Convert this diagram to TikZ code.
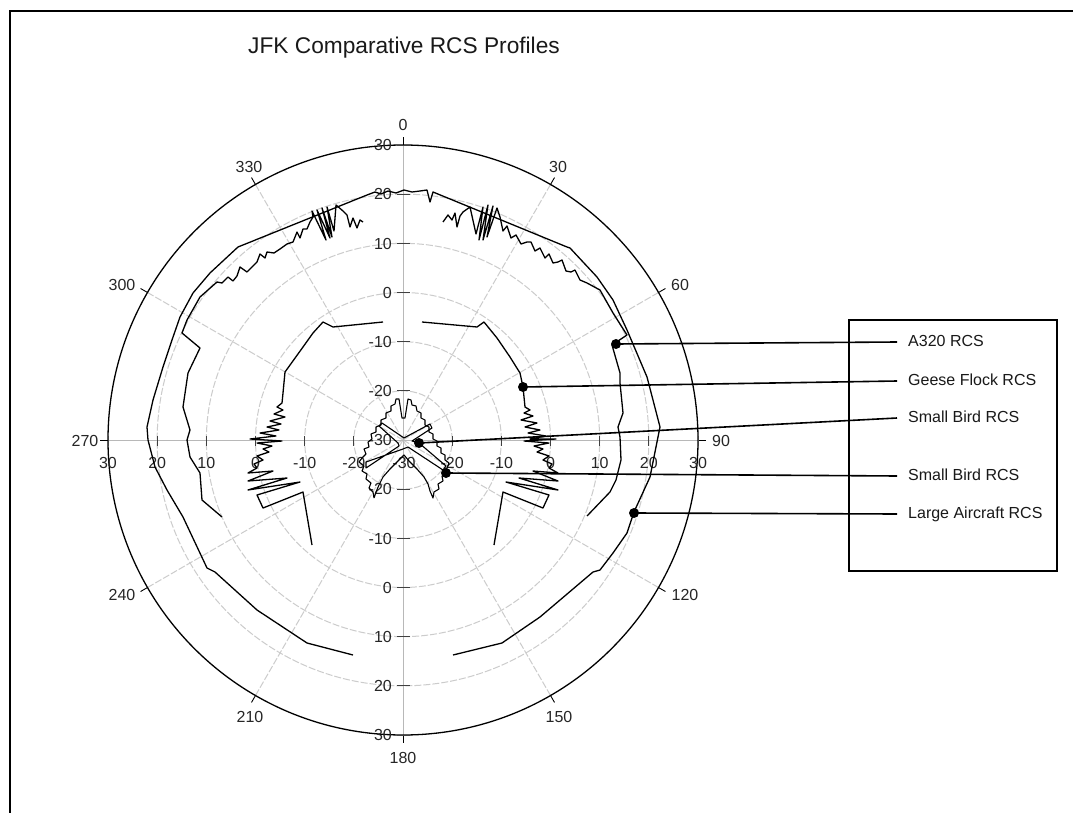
\documentclass[tikz,border=0pt]{standalone}
\usepackage{fontspec}
\setmainfont{Liberation Sans}
\begin{document}
\begin{tikzpicture}[x=1pt,y=-1pt,
  gridc/.style={draw=black!20, line width=1pt, dash pattern=on 7pt off 2pt},
  axisg/.style={draw=black!28, line width=1pt},
  tickm/.style={draw=black!75, line width=0.8pt},
  trace/.style={draw=black, line width=1.3pt, line join=round},
  leader/.style={draw=black, line width=1.6pt},
  dot/.style={circle, fill=black, inner sep=0pt, minimum size=10pt},
  lbl/.style={font=\fontsize{16}{18}\selectfont, text=black!85, inner sep=0pt, text height=11.5pt, text depth=0pt},
  legtext/.style={font=\fontsize{16}{18}\selectfont, text=black!90, anchor=west, inner xsep=11pt, inner ysep=0pt, text height=12pt, text depth=3pt},
]
\useasboundingbox (0,0) rectangle (1073,813);
\fill[white] (0,0) rectangle (1073,813);
\coordinate (c) at (403,440);
% grid rings and spokes
\foreach \k in {1,...,5} \draw[gridc] (c) circle[radius={\k*49.1667pt}];
\foreach \t in {30,60,120,150,210,240,300,330}
  \draw[gridc] (c) -- ({403+295*sin(\t)},{440-295*cos(\t)});
\draw[axisg] (403,145) -- (403,735);
\draw[axisg] (108,440) -- (698,440);
% outer circle
\draw[black, line width=1.3pt] (c) circle[radius=295pt];
\foreach \t in {0,30,...,330}
  \draw[black, line width=0.9pt] ({403+295*sin(\t)},{440-295*cos(\t)}) -- ({403+303*sin(\t)},{440-303*cos(\t)});
% angle labels
\node[lbl] (a0) at (403,125) {0};
\node[lbl] (a30) at (558,167) {30};
\node[lbl] (a60) at (680,285) {60};
\node[lbl] (a90) at (721,441) {90};
\node[lbl] (a120) at (685,595) {120};
\node[lbl] (a150) at (559,717) {150};
\node[lbl] (a180) at (403,758) {180};
\node[lbl] (a210) at (250,717) {210};
\node[lbl] (a240) at (122,595) {240};
\node[lbl] (a270) at (85,441) {270};
\node[lbl] (a300) at (122,285) {300};
\node[lbl] (a330) at (249,167) {330};
% radial axis ticks and labels
\foreach \v [count=\i] in {-20,-10,0,10,20,30} {
  \pgfmathsetmacro\rr{(\v+30)*4.9167}
  \draw[tickm] (397,{440-\rr}) -- (410,{440-\rr});
  \draw[tickm] (397,{440+\rr}) -- (410,{440+\rr});
  \draw[tickm] ({403-\rr},436) -- ({403-\rr},446);
  \draw[tickm] ({403+\rr},436) -- ({403+\rr},446);
  \node[lbl, anchor=east] (vu\i) at (392,{440-\rr}) {\v};
  \node[lbl, anchor=east] (vd\i) at (392,{440+\rr}) {\v};
  \node[lbl] (hl\i) at ({403-\rr},463) {\v};
  \node[lbl] (hr\i) at ({403+\rr},463) {\v};
}
\node[lbl, anchor=east] (vc) at (392,440) {-30};
\node[lbl] (hc) at (404,463) {-30};
% Large aircraft trace
\draw[trace] plot coordinates {(353,655) (307,643) (257,610) (215,572) (207,568) (183,517) (167,490) (155,467) (148,440) (147,427) (153,400) (163,367) (172,340) (180,317) (193,293) (210,273) (238,247) (367,195) (375,192) (381,194) (388,191) (396,193) (404,190) (412,192) (420,191) (427,190) (430,202) (433,192) (567,247) (570,248) (597,277) (613,300) (627,330) (647,377) (660,427) (650,477) (634,512) (627,533) (613,553) (600,570) (593,572) (540,617) (502,643) (453,655)};
% A320 trace
\draw[trace] plot coordinates {(222,517) (202,500) (200,473) (190,457) (187,440) (190,430) (183,407) (188,373) (200,348) (182,333) (187,320) (200,297) (217,282) (222,283) (228,277) (233,281) (237,276) (240,267) (247,272) (253,266) (257,262) (260,254) (265,258) (267,252) (274,253) (280,249) (287,244) (293,242) (297,232) (300,238) (303,229) (307,229) (310,222) (313,217) (312,211) (326,240) (317,210) (330,238) (322,208) (332,237) (327,207) (334,231) (336,205) (343,211) (347,215) (350,227) (353,218) (357,228) (360,220) (363,222)};
\draw[trace] plot coordinates {(443,222) (448,215) (452,220) (455,213) (457,227) (460,216) (463,212) (470,207) (476,234) (483,207) (479,240) (488,205) (483,240) (493,206) (487,237) (497,208) (500,217) (503,231) (507,226) (511,238) (516,235) (521,244) (527,242) (531,242) (535,251) (540,248) (545,258) (549,254) (553,263) (558,262) (562,260) (566,271) (571,272) (575,270) (580,280) (587,283) (600,290) (613,313) (627,335) (612,345) (620,373) (620,383) (623,413) (618,427) (620,437) (621,460) (616,480) (610,492) (587,516)};
% Geese flock trace
\draw[trace] plot coordinates {(383,322) (333,327) (323,322) (313,333) (303,347) (285,372) (283,393) (282,403) (277,407) (283,410) (274,414) (285,417) (270,421) (281,424) (267,427) (279,430) (260,433) (276,436) (250,439) (282,441) (257,443) (272,446) (263,449) (269,452) (257,456) (263,460) (254,464) (257,468) (248,473) (273,471) (248,481) (287,478) (248,490) (300,482) (257,495) (263,508) (303,492) (312,545)};
\draw[trace] plot coordinates {(422,322) (477,327) (484,322) (497,338) (510,357) (520,373) (523,387) (525,407) (530,410) (524,413) (533,416) (521,420) (537,423) (525,427) (540,430) (528,433) (546,436) (530,439) (556,439) (524,441) (549,443) (534,446) (543,449) (537,452) (549,456) (543,460) (552,464) (549,468) (558,473) (533,471) (558,481) (519,478) (558,490) (506,482) (549,495) (543,508) (503,492) (494,545)};
% Small bird traces
\draw[trace, line width=1.1pt] plot coordinates {(374,498) (373,492) (369,488) (371,483) (366,479) (367,474) (362,471) (364,466) (359,462) (362,458) (366,454) (364,449) (369,447) (368,442) (372,439) (371,434) (376,432) (376,427) (381,425) (381,420) (386,418) (386,413) (391,411) (391,406) (395,404) (396,399) (399,399) (402,418) (405,418) (408,399) (411,400) (412,405) (416,406) (417,411) (421,413) (421,418) (425,420) (425,425) (429,427) (429,432) (433,434) (433,439) (437,441) (437,446) (441,448) (441,453) (445,455) (445,460) (449,463) (447,468) (446,473) (442,476) (443,481) (438,484) (439,489) (434,492) (433,498) (430,491) (428,484) (424,477) (417,469) (409,461) (404,455) (398,461) (390,469) (383,477) (379,485) (376,492) (374,498)};
\draw[trace, line width=1.1pt] plot coordinates {(404,438) (430,424) (432,428) (412,441) (419,443) (446,466) (443,470) (408,447) (403,449) (366,462) (366,468) (399,446) (398,443) (379,426) (382,423) (404,438)};
% dots
\node[dot] (dA) at (616,344) {};
\node[dot] (dG) at (523,387) {};
\node[dot] (dS1) at (419,443) {};
\node[dot] (dS2) at (446,473) {};
\node[dot] (dL) at (634,513) {};
% legend
\node[draw, line width=1.2pt, minimum width=208pt, minimum height=251pt, inner sep=0pt] (legbox) at (953,445.5) {};
\node[legtext] (lA) at (897,342) {A320 RCS};
\node[legtext] (lG) at (897,381) {Geese Flock RCS};
\node[legtext] (lS1) at (897,418) {Small Bird RCS};
\node[legtext] (lS2) at (897,476) {Small Bird RCS};
\node[legtext] (lL) at (897,514) {Large Aircraft RCS};
\draw[leader] (dA.center) -- (lA.west);
\draw[leader] (dG.center) -- (lG.west);
\draw[leader] (dS1.center) -- (lS1.west);
\draw[leader] (dS2.center) -- (lS2.west);
\draw[leader] (dL.center) -- (lL.west);
% title
\node[font=\fontsize{22.7}{26}\selectfont, text=black!90, inner sep=0pt] (title) at (404,48) {JFK Comparative RCS Profiles};
% frame
\draw[line width=1.2pt] (10,813) -- (10,11) -- (1073,11);
\end{tikzpicture}
\end{document}
